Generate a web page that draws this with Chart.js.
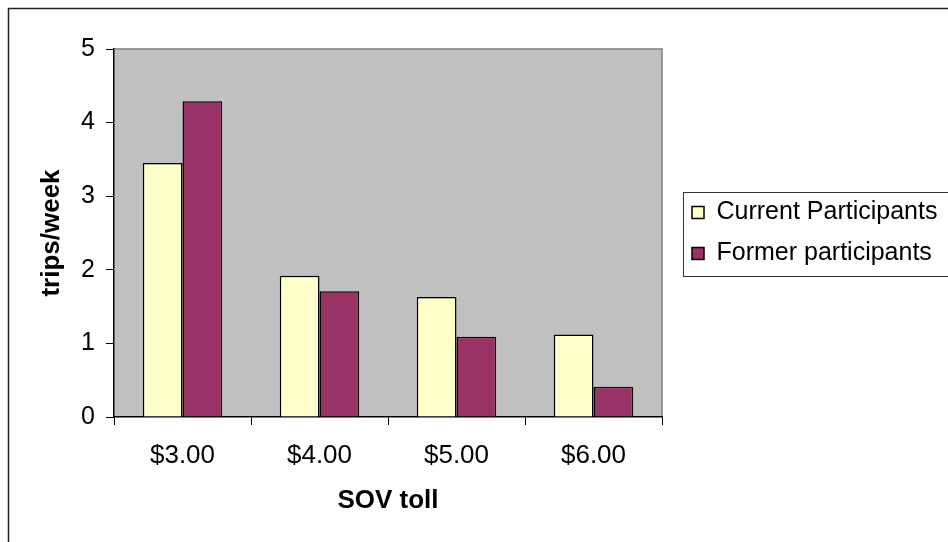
<!DOCTYPE html>
<html>
<head>
<meta charset="utf-8">
<script src="https://cdn.jsdelivr.net/npm/chart.js@4"></script>
<style>
  html, body { margin: 0; padding: 0; background: #fff; }
  canvas { display: block; }
</style>
</head>
<body>
<canvas id="tollChart" width="948" height="542"></canvas>
<script>
// values
const tolls = ['$3.00', '$4.00', '$5.00', '$6.00'];
const currentParticipants = [3.45, 1.92, 1.63, 1.12];
const formerParticipants = [4.29, 1.71, 1.09, 0.41];
const yTicks = [0, 1, 2, 3, 4, 5];

const FONT = "'Liberation Sans', Arial, sans-serif";

// grey plot area, outer frame and the box round the legend
const frame = {
    id: 'frame',
    afterLayout(chart) {
        // move the legend a little away from the plot, and let the text run off the edge
        chart.legend.left += 14;
        chart.legend.right = 1000;
        chart.legend.width = chart.legend.right - chart.legend.left;
    },
    beforeDraw(chart) {
        const { ctx, chartArea: a } = chart;
        ctx.save();
        ctx.fillStyle = '#C0C0C0';
        ctx.fillRect(a.left, a.top, a.right - a.left, a.bottom - a.top);
        ctx.strokeStyle = '#808080';
        ctx.lineWidth = 1.5;
        ctx.beginPath();
        ctx.moveTo(a.left, a.top);
        ctx.lineTo(a.right, a.top);
        ctx.lineTo(a.right, a.bottom);
        ctx.stroke();
        ctx.restore();
    },
    afterDraw(chart) {
        const { ctx } = chart;
        ctx.save();
        ctx.strokeStyle = '#222';
        ctx.lineWidth = 1.5;
        ctx.beginPath();
        ctx.moveTo(8.5, 542);
        ctx.lineTo(8.5, 8.5);
        ctx.lineTo(948, 8.5);
        ctx.stroke();
        ctx.lineWidth = 1;
        ctx.strokeStyle = '#333';
        ctx.strokeRect(683.5, 192.5, 300, 84);
        ctx.restore();
    }
};

new Chart(document.getElementById('tollChart').getContext('2d'), {
    type: 'bar',
    data: {
        labels: tolls,
        datasets: [
            {
                label: 'Current Participants',
                data: currentParticipants,
                backgroundColor: '#FFFFCC',
                borderColor: '#000',
                borderWidth: 1.5,
                barPercentage: 1,
                categoryPercentage: 0.58
            },
            {
                label: 'Former participants',
                data: formerParticipants,
                backgroundColor: '#993366',
                borderColor: '#000',
                borderWidth: 1.5,
                barPercentage: 1,
                categoryPercentage: 0.58
            }
        ]
    },
    options: {
        responsive: false,
        animation: false,
        layout: { padding: { left: 0, top: 49, right: 46, bottom: 0 } },
        plugins: {
            tooltip: { enabled: false },
            legend: {
                position: 'right',
                fullSize: false,
                maxWidth: 240,
                labels: {
                    color: '#000',
                    font: { family: FONT, size: 25 },
                    boxWidth: 12,
                    boxHeight: 12,
                    padding: 16
                }
            }
        },
        scales: {
            x: {
                afterFit: s => { s.height = 125; },
                grid: { drawOnChartArea: false, drawTicks: true, tickLength: 8, tickColor: '#000', offset: true },
                border: { color: '#000', width: 1.5 },
                ticks: { color: '#000', font: { family: FONT, size: 26 }, padding: 15, maxRotation: 0 },
                title: {
                    display: true,
                    text: 'SOV toll',
                    color: '#000',
                    font: { family: FONT, size: 26, weight: 'bold' },
                    padding: { top: 0, bottom: 26 }
                }
            },
            y: {
                min: 0,
                max: 5,
                afterFit: s => { s.width = 114; },
                afterBuildTicks: s => { s.ticks = yTicks.map(v => ({ value: v })); },
                grid: { drawOnChartArea: false, drawTicks: true, tickLength: 8, tickColor: '#000' },
                border: { color: '#000', width: 1.5 },
                ticks: { color: '#000', font: { family: FONT, size: 25 }, padding: 11 },
                title: {
                    display: true,
                    text: 'trips/week',
                    color: '#000',
                    font: { family: FONT, size: 26, weight: 'bold' },
                    padding: { top: 36, bottom: 0 }
                }
            }
        }
    },
    plugins: [frame]
});
</script>
</body>
</html>
